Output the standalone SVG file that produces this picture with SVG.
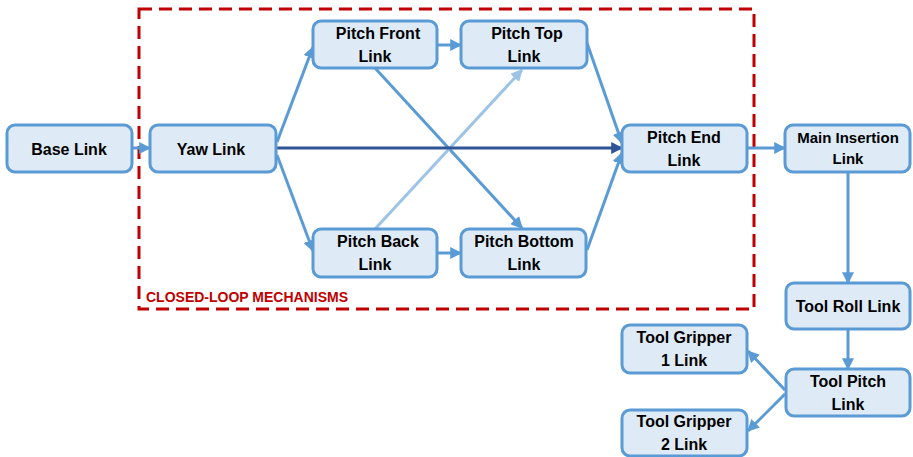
<svg xmlns="http://www.w3.org/2000/svg" width="913" height="457" viewBox="0 0 913 457">
  <style>
    .node rect { fill: #DEEBF7; stroke: #5B9BD5; stroke-width: 3; }
    .node text { font-family: "Liberation Sans", Arial, sans-serif; font-weight: bold; font-size: 16px; fill: #000; text-anchor: middle; }
    .node text.small { font-size: 15px; }
    .edge { fill: none; stroke: #5B9BD5; stroke-width: 3; marker-end: url(#arr); }
    .edge.dark { stroke: #2F5597; marker-end: url(#arrDark); }
    .edge.light { stroke: #9DC3E6; marker-end: url(#arrLight); }
    .frame { fill: none; stroke: #C00000; stroke-width: 3; stroke-dasharray: 13 7; }
    .frame-label { font-family: "Liberation Sans", Arial, sans-serif; font-weight: bold; font-size: 14px; fill: #C00000; }
  </style>
  <defs>
    <marker id="arr" viewBox="0 0 10 10" refX="9" refY="5" markerWidth="4" markerHeight="4" orient="auto" markerUnits="strokeWidth">
      <path d="M0,0 L10,5 L0,10 z" fill="#5B9BD5"/>
    </marker>
    <marker id="arrDark" viewBox="0 0 10 10" refX="9" refY="5" markerWidth="4" markerHeight="4" orient="auto" markerUnits="strokeWidth">
      <path d="M0,0 L10,5 L0,10 z" fill="#2F5597"/>
    </marker>
    <marker id="arrLight" viewBox="0 0 10 10" refX="9" refY="5" markerWidth="4" markerHeight="4" orient="auto" markerUnits="strokeWidth">
      <path d="M0,0 L10,5 L0,10 z" fill="#9DC3E6"/>
    </marker>
  </defs>

  <rect width="913" height="457" fill="#FFFFFF"/>

  <!-- closed-loop region -->
  <g id="closed-loop-frame">
    <rect class="frame" x="139" y="9" width="615" height="300"/>
    <text class="frame-label" x="146" y="302">CLOSED-LOOP MECHANISMS</text>
  </g>

  <!-- connectors -->
  <g id="connectors">
    <line class="edge" x1="132" y1="148" x2="150" y2="148"/>
    <line class="edge" x1="277" y1="142" x2="313" y2="47"/>
    <line class="edge" x1="277" y1="155" x2="313" y2="251"/>
    <line class="edge" x1="437" y1="45" x2="461" y2="45"/>
    <line class="edge" x1="437" y1="253" x2="461" y2="253"/>
    <line class="edge" x1="375" y1="68" x2="522" y2="228"/>
    <line class="edge light" x1="375" y1="229" x2="522" y2="70"/>
    <line class="edge" x1="587" y1="43" x2="622" y2="143"/>
    <line class="edge" x1="587" y1="250" x2="622" y2="153"/>
    <line class="edge dark" x1="277" y1="148" x2="622" y2="148"/>
    <line class="edge" x1="747" y1="148" x2="785" y2="148"/>
    <line class="edge" x1="848" y1="172" x2="848" y2="283"/>
    <line class="edge" x1="848" y1="329" x2="848" y2="369"/>
    <line class="edge" x1="785" y1="390" x2="748" y2="351"/>
    <line class="edge" x1="785" y1="394" x2="748" y2="431"/>
  </g>

  <g id="base-link" class="node">
    <rect x="7" y="125" width="125" height="47" rx="8"/>
    <text x="69" y="155">Base Link</text>
  </g>
  <g id="yaw-link" class="node">
    <rect x="150" y="125" width="126" height="47" rx="8"/>
    <text x="211" y="155">Yaw Link</text>
  </g>
  <g id="pitch-front-link" class="node">
    <rect x="313" y="21" width="124" height="47" rx="8"/>
    <text x="378" y="39">Pitch Front</text>
    <text x="375" y="62">Link</text>
  </g>
  <g id="pitch-top-link" class="node">
    <rect x="461" y="21" width="126" height="47" rx="8"/>
    <text x="527" y="39">Pitch Top</text>
    <text x="524" y="62">Link</text>
  </g>
  <g id="pitch-back-link" class="node">
    <rect x="313" y="229" width="124" height="48" rx="8"/>
    <text x="378" y="247">Pitch Back</text>
    <text x="375" y="270">Link</text>
  </g>
  <g id="pitch-bottom-link" class="node">
    <rect x="461" y="229" width="125" height="48" rx="8"/>
    <text x="524" y="247">Pitch Bottom</text>
    <text x="524" y="270">Link</text>
  </g>
  <g id="pitch-end-link" class="node">
    <rect x="622" y="125" width="125" height="47" rx="8"/>
    <text x="684" y="143">Pitch End</text>
    <text x="684" y="166">Link</text>
  </g>
  <g id="main-insertion-link" class="node">
    <rect x="785" y="125" width="125" height="47" rx="8"/>
    <text class="small" x="848" y="143">Main Insertion</text>
    <text class="small" x="848" y="164">Link</text>
  </g>
  <g id="tool-roll-link" class="node">
    <rect x="786" y="283" width="124" height="46" rx="8"/>
    <text x="848" y="312">Tool Roll Link</text>
  </g>
  <g id="tool-pitch-link" class="node">
    <rect x="786" y="369" width="124" height="47" rx="8"/>
    <text x="848" y="387">Tool Pitch</text>
    <text x="848" y="410">Link</text>
  </g>
  <g id="tool-gripper-1-link" class="node">
    <rect x="622" y="325" width="125" height="48" rx="8"/>
    <text x="684" y="343">Tool Gripper</text>
    <text x="684" y="366">1 Link</text>
  </g>
  <g id="tool-gripper-2-link" class="node">
    <rect x="622" y="410" width="125" height="46" rx="8"/>
    <text x="684" y="427">Tool Gripper</text>
    <text x="684" y="450">2 Link</text>
  </g>
</svg>
